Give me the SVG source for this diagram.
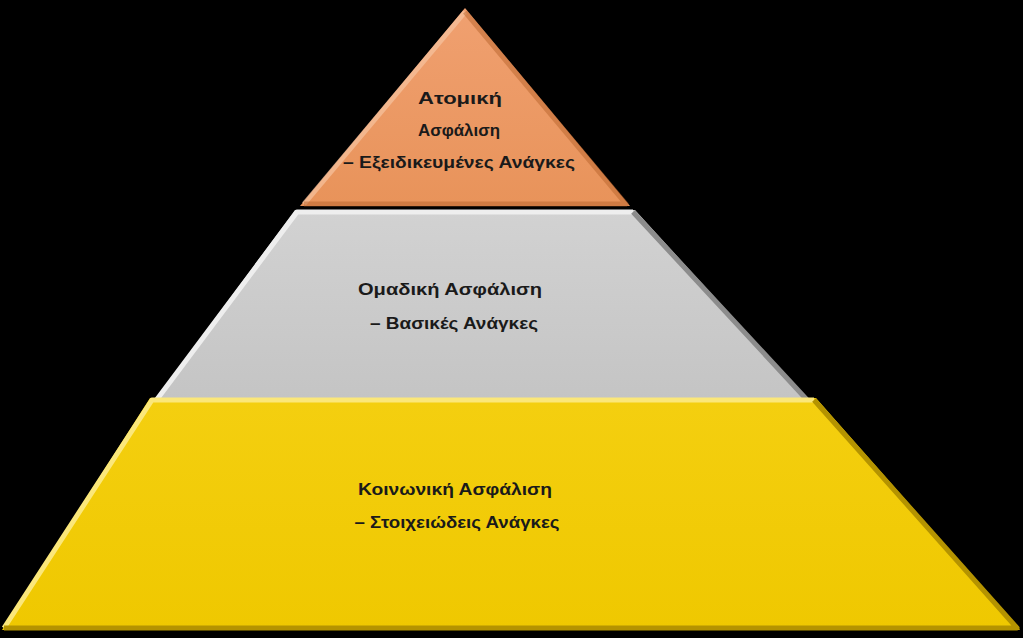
<svg xmlns="http://www.w3.org/2000/svg" width="1023" height="638" viewBox="0 0 1023 638">
<defs>
<linearGradient id="gO" x1="0" y1="0" x2="0" y2="1"><stop offset="0" stop-color="#f0a070"/><stop offset="1" stop-color="#e8935a"/></linearGradient>
<linearGradient id="gG" x1="0" y1="0" x2="0" y2="1"><stop offset="0" stop-color="#d2d2d2"/><stop offset="1" stop-color="#c4c4c4"/></linearGradient>
<linearGradient id="gY" x1="0" y1="0" x2="0" y2="1"><stop offset="0" stop-color="#f4cf10"/><stop offset="1" stop-color="#efc800"/></linearGradient>
</defs>
<style>
text{font-family:"Liberation Sans","Open Sans",sans-serif;font-weight:bold;font-size:16px;fill:#1a1a1a;text-anchor:middle}
.edge{fill:none;stroke-width:5;stroke-linejoin:round}
</style>
<rect width="1023" height="638" fill="#000"/>
<g id="tier-top">
<polygon points="465,8 630,206 300,206" fill="url(#gO)"/>
<polyline class="edge" points="304,204 465,12" stroke="#f7c3a0" stroke-opacity="0.7"/>
<polyline class="edge" points="465,12 626,204 304,204" stroke="#b8642c" stroke-opacity="0.5"/>
<text x="460" y="104" textLength="84" lengthAdjust="spacingAndGlyphs">Ατομική</text>
<text x="459" y="136" textLength="82" lengthAdjust="spacingAndGlyphs">Ασφάλιση</text>
<text x="459" y="168" textLength="232" lengthAdjust="spacingAndGlyphs">– Εξειδικευμένες Ανάγκες</text>
</g>
<g id="tier-middle">
<polygon points="295,210 635,210 812,404 152,404" fill="url(#gG)"/>
<polyline class="edge" points="155,402 297,212 633,212" stroke="#eeeeee"/>
<polyline class="edge" points="633,212 809,402 155,402" stroke="#8c8c8c"/>
<text x="450" y="295" textLength="184" lengthAdjust="spacingAndGlyphs">Ομαδική Ασφάλιση</text>
<text x="454" y="329" textLength="168" lengthAdjust="spacingAndGlyphs">– Βασικές Ανάγκες</text>
</g>
<g id="tier-bottom">
<polygon points="150,398 816,398 1020,630 2,630" fill="url(#gY)"/>
<polyline class="edge" points="4,628 152,400 814,400" stroke="#fbe77a"/>
<polyline class="edge" points="814,400 1017,628 4,628" stroke="#b49300"/>
<text x="455" y="495" textLength="194" lengthAdjust="spacingAndGlyphs">Κοινωνική Ασφάλιση</text>
<text x="457" y="528" textLength="205" lengthAdjust="spacingAndGlyphs">– Στοιχειώδεις Ανάγκες</text>
</g>
<g id="connectors"/>
</svg>
